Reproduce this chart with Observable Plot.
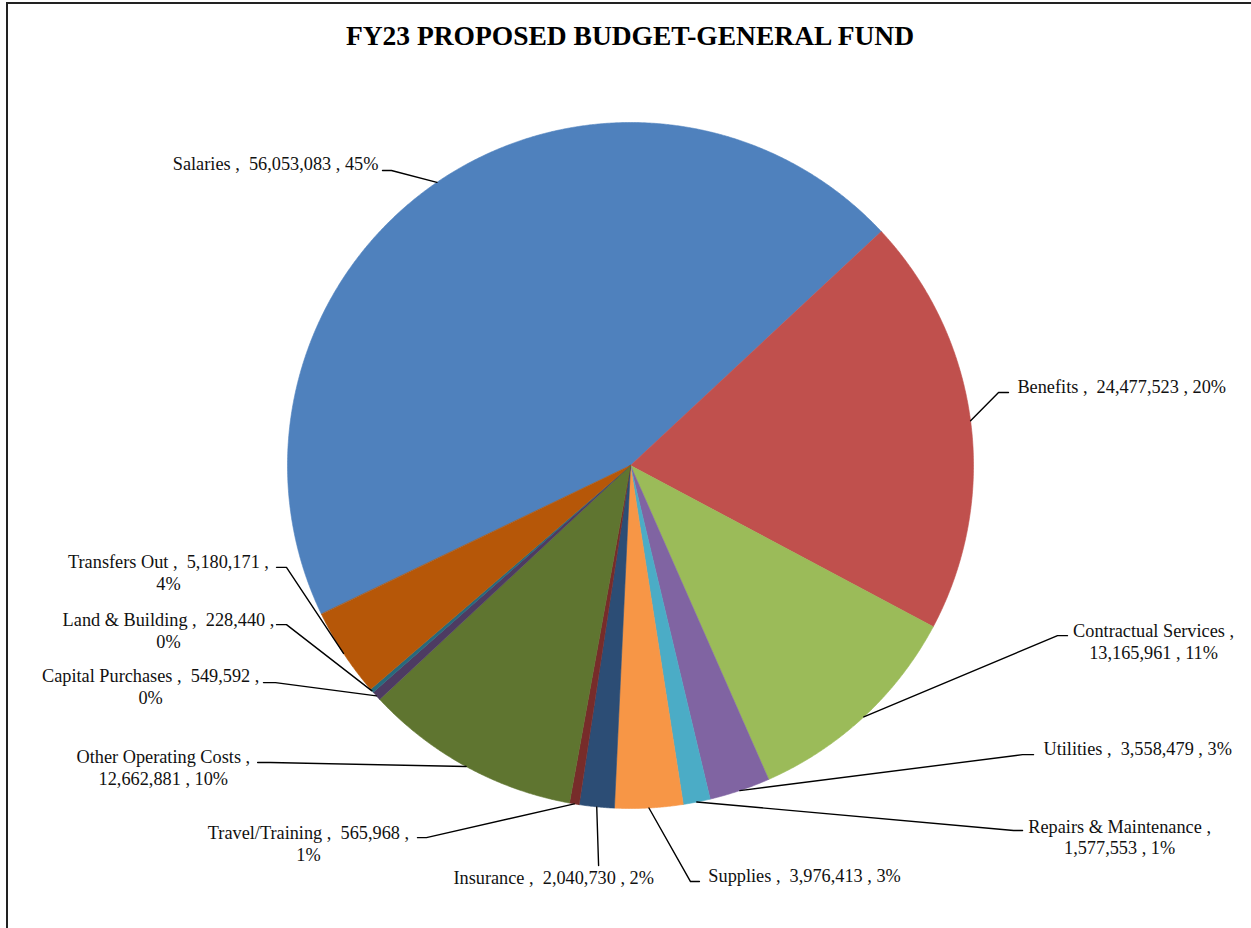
<!DOCTYPE html>
<html><head><meta charset="utf-8">
<script src="https://cdn.jsdelivr.net/npm/d3@7"></script>
<script src="https://cdn.jsdelivr.net/npm/@observablehq/plot@0.6"></script>
<style>
html,body{margin:0;padding:0;background:#fff;}
#wrap{position:relative;width:1251px;height:928px;overflow:hidden;}
#frame{position:absolute;left:6px;top:2px;width:1300px;height:1000px;border-top:2px solid #222;border-left:2px solid #222;}
#title{position:absolute;left:0;width:1260px;top:22px;line-height:27px;text-align:center;font-weight:bold;font-size:27.5px;font-family:"Liberation Serif",serif;color:#000;}
#chart{position:absolute;left:0;top:0;}
#chart svg text{white-space:pre;}
</style></head>
<body>
<div id="wrap"><div id="frame"></div><div id="chart"></div><div id="title">FY23 PROPOSED BUDGET-GENERAL FUND</div></div>
<script>
// ---- data ----
const categories = ["Salaries","Benefits","Contractual Services","Utilities","Repairs & Maintenance","Supplies","Insurance","Travel/Training","Other Operating Costs","Capital Purchases","Land & Building","Transfers Out"];
const values = [56053083,24477523,13165961,3558479,1577553,3976413,2040730,565968,12662881,549592,228440,5180171];
const percentLabels = ["45%","20%","11%","3%","1%","3%","2%","1%","10%","0%","0%","4%"];

// ---- style / layout ----
const colors = ["#4F81BD","#C0504D","#9BBB59","#8064A2","#4BACC6","#F79646","#2C4D75","#772C2A","#5F7530","#4D3B62","#276A7C","#B65708"];
const firstSliceAngle = 244.3; // degrees, clockwise from 12 o'clock
// label layout in pie-radius units: text anchor (tx,ty), elbow (ex,ey), leader end x (hx)
const labelLayout = [
  {anchor:"end",    brk:"none",  tx:-0.735, ty: 0.878, ex:-0.697, ey: 0.860, hx:-0.723},
  {anchor:"start",  brk:"none",  tx: 1.128, ty: 0.227, ex: 1.073, ey: 0.213, hx: 1.102},
  {anchor:"middle", brk:"name",  tx: 1.525, ty:-0.516, ex: 1.245, ey:-0.496, hx: 1.274},
  {anchor:"start",  brk:"none",  tx: 1.204, ty:-0.828, ex: 1.143, ey:-0.843, hx: 1.175},
  {anchor:"middle", brk:"name",  tx: 1.426, ty:-1.086, ex: 1.117, ey:-1.064, hx: 1.143},
  {anchor:"start",  brk:"none",  tx: 0.227, ty:-1.198, ex: 0.175, ey:-1.213, hx: 0.201},
  {anchor:"middle", brk:"none",  tx:-0.224, ty:-1.204, ex:-0.093, ey:-1.166, hx:-0.093},
  {anchor:"middle", brk:"value", tx:-0.939, ty:-1.105, ex:-0.595, ey:-1.085, hx:-0.621},
  {anchor:"middle", brk:"name",  tx:-1.362, ty:-0.883, ex:-1.050, ey:-0.866, hx:-1.087},
  {anchor:"middle", brk:"value", tx:-1.399, ty:-0.647, ex:-1.035, ey:-0.633, hx:-1.070},
  {anchor:"middle", brk:"value", tx:-1.347, ty:-0.483, ex:-1.003, ey:-0.464, hx:-1.032},
  {anchor:"middle", brk:"value", tx:-1.347, ty:-0.316, ex:-1.003, ey:-0.297, hx:-1.032}
];

// ---- build ----
const rad = d => d * Math.PI / 180;
const arcs = d3.pie().sort(null)
  .startAngle(rad(firstSliceAngle)).endAngle(rad(firstSliceAngle + 360))(values);

const slicePts = [];
arcs.forEach((a, i) => {
  const name = categories[i];
  slicePts.push({name, x: 0, y: 0});
  const n = Math.max(2, Math.ceil((a.endAngle - a.startAngle) / rad(0.25)));
  for (let k = 0; k <= n; k++) {
    const t = a.startAngle + (a.endAngle - a.startAngle) * k / n;
    slicePts.push({name, x: Math.sin(t), y: Math.cos(t)});
  }
});

const fmt = d3.format(",");
const leaderPts = [];
const labels = [];
arcs.forEach((a, i) => {
  const L = labelLayout[i];
  const name = categories[i];
  const mid = (a.startAngle + a.endAngle) / 2;
  leaderPts.push({name, x: Math.sin(mid), y: Math.cos(mid)});
  leaderPts.push({name, x: L.ex, y: L.ey});
  leaderPts.push({name, x: L.hx, y: L.ey});
  const num = fmt(values[i]);
  let text;
  if (L.brk === "name") text = `${name} ,\n${num} , ${percentLabels[i]}`;
  else if (L.brk === "value") text = `${name} ,  ${num} ,\n${percentLabels[i]}`;
  else text = `${name} ,  ${num} , ${percentLabels[i]}`;
  labels.push({name, x: L.tx, y: L.ty, text, anchor: L.anchor});
});

const R = 343, cx = 630, cy = 465, W = 1251, H = 928;
const textOpts = a => ({x: "x", y: "y", text: "text", textAnchor: a, lineAnchor: "middle", dy: -1.5,
  fontSize: 18.3, fontFamily: "Liberation Serif", fill: "#111", lineHeight: 1.2});

const chart = Plot.plot({
  width: W, height: H, margin: 0,
  x: {domain: [-cx / R, (W - cx) / R], axis: null},
  y: {domain: [-(H - cy) / R, cy / R], axis: null},
  color: {domain: categories, range: colors},
  marks: [
    Plot.line(slicePts, {x: "x", y: "y", z: "name", fill: "name", stroke: "name", strokeWidth: 0.6, curve: "linear-closed"}),
    Plot.line(leaderPts, {x: "x", y: "y", z: "name", stroke: "#000", strokeWidth: 1.4}),
    Plot.text(labels.filter(d => d.anchor === "start"), textOpts("start")),
    Plot.text(labels.filter(d => d.anchor === "end"), textOpts("end")),
    Plot.text(labels.filter(d => d.anchor === "middle"), textOpts("middle"))
  ]
});
document.getElementById("chart").appendChild(chart);
</script>
</body></html>
